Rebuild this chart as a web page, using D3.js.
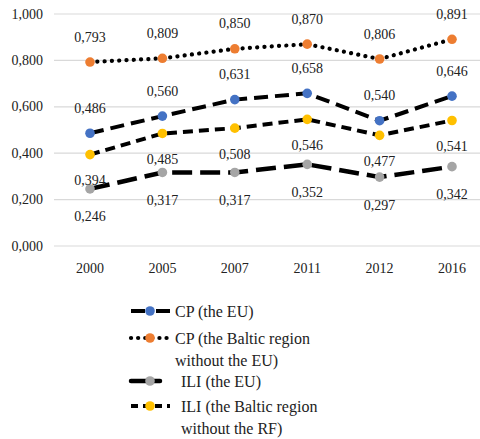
<!DOCTYPE html>
<html>
<head>
<meta charset="utf-8">
<script src="https://cdn.jsdelivr.net/npm/d3@7"></script>
<style>
  body { margin: 0; background: #fff; }
  svg text { font-family: 'Liberation Serif', 'Times New Roman', Times, 'DejaVu Serif', serif; fill: #222; }
</style>
</head>
<body>
<svg id="chart" width="480" height="439"></svg>
<script>
var years = ["2000", "2005", "2007", "2011", "2012", "2016"];
var yTicks = [0, 0.2, 0.4, 0.6, 0.8, 1.0];

var cpEU = [0.486, 0.560, 0.631, 0.658, 0.540, 0.646];
var cpBaltic = [0.793, 0.809, 0.850, 0.870, 0.806, 0.891];
var iliEU = [0.246, 0.317, 0.317, 0.352, 0.297, 0.342];
var iliBaltic = [0.394, 0.485, 0.508, 0.546, 0.477, 0.541];

var seriesNames = [
    ["CP (the EU)"],
    ["CP (the Baltic region", "without the EU)"],
    ["ILI (the EU)"],
    ["ILI (the Baltic region", "without the RF)"]
];

var series = [
    { values: cpEU, name: seriesNames[0], color: "#4472c4", dash: "14,7", cap: "butt", width: 4, labelDy: -25, legendY: 311, textX: 175 },
    { values: cpBaltic, name: seriesNames[1], color: "#ed7d31", dash: "0.1,7.2", cap: "round", width: 4.2, labelDy: -25, legendY: 338, textX: 175 },
    { values: iliEU, name: seriesNames[2], color: "#a5a5a5", dash: "20,8", cap: "butt", width: 4.5, labelDy: 28, legendY: 381, textX: 181 },
    { values: iliBaltic, name: seriesNames[3], color: "#ffc000", dash: "10,6", cap: "butt", width: 4, labelDy: 26, legendY: 406, textX: 181 }
];

var svg = d3.select("#chart");
var fmt = function(v) { return d3.format(".3f")(v).replace(".", ","); };

var x = d3.scalePoint().domain(years).range([90, 452]);
var y = d3.scaleLinear().domain([0, 1]).range([246, 14]);

// gridlines
svg.append("g").selectAll("line")
    .data(yTicks)
    .enter().append("line")
    .attr("x1", 54).attr("x2", 488)
    .attr("y1", function(d) { return y(d); })
    .attr("y2", function(d) { return y(d); })
    .attr("stroke", "#d9d9d9")
    .attr("stroke-width", 1.2);

// y labels
svg.append("g").selectAll("text")
    .data(yTicks)
    .enter().append("text")
    .attr("x", 43)
    .attr("y", function(d) { return y(d) + 4.5; })
    .attr("text-anchor", "end")
    .style("font-size", "14px")
    .text(fmt);

// x labels
svg.append("g").selectAll("text")
    .data(years)
    .enter().append("text")
    .attr("x", function(d) { return x(d); })
    .attr("y", 273)
    .attr("text-anchor", "middle")
    .style("font-size", "14px")
    .text(function(d) { return d; });

var line = d3.line()
    .x(function(d, i) { return x(years[i]); })
    .y(function(d) { return y(d); });

series.forEach(function(s) {
    svg.append("path")
        .attr("d", line(s.values))
        .attr("fill", "none")
        .attr("stroke", "#000")
        .attr("stroke-width", s.width)
        .attr("stroke-dasharray", s.dash)
        .attr("stroke-linecap", s.cap);
});

series.forEach(function(s) {
    svg.append("g").selectAll("circle")
        .data(s.values)
        .enter().append("circle")
        .attr("cx", function(d, i) { return x(years[i]); })
        .attr("cy", function(d) { return y(d); })
        .attr("r", 4.8)
        .attr("fill", s.color);

    svg.append("g").selectAll("text")
        .data(s.values)
        .enter().append("text")
        .attr("x", function(d, i) { return x(years[i]); })
        .attr("y", function(d) { return y(d) + s.labelDy + 4.5; })
        .attr("text-anchor", "middle")
        .style("font-size", "14px")
        .text(fmt);
});

// legend
series.forEach(function(s, k) {
    var g = svg.append("g").attr("transform", "translate(0," + s.legendY + ")");
    var x2 = k == 2 ? 160 : 170;
    g.append("line")
        .attr("x1", 131).attr("x2", x2)
        .attr("y1", 0).attr("y2", 0)
        .attr("stroke", "#000")
        .attr("stroke-width", s.width)
        .attr("stroke-dasharray", k == 2 ? null : (k == 1 ? "0.1,7" : (k == 0 ? "14,11" : "7,5")))
        .attr("stroke-linecap", k == 2 ? "round" : s.cap);
    g.append("circle")
        .attr("cx", 150).attr("cy", 0)
        .attr("r", 4.8)
        .attr("fill", s.color);
    var t = g.append("text")
        .attr("x", s.textX)
        .attr("y", 5.5)
        .style("font-size", "16px");
    s.name.forEach(function(n, j) {
        t.append("tspan")
            .attr("x", s.textX)
            .attr("dy", j == 0 ? 0 : 22.5)
            .text(n);
    });
});
</script>
</body>
</html>
